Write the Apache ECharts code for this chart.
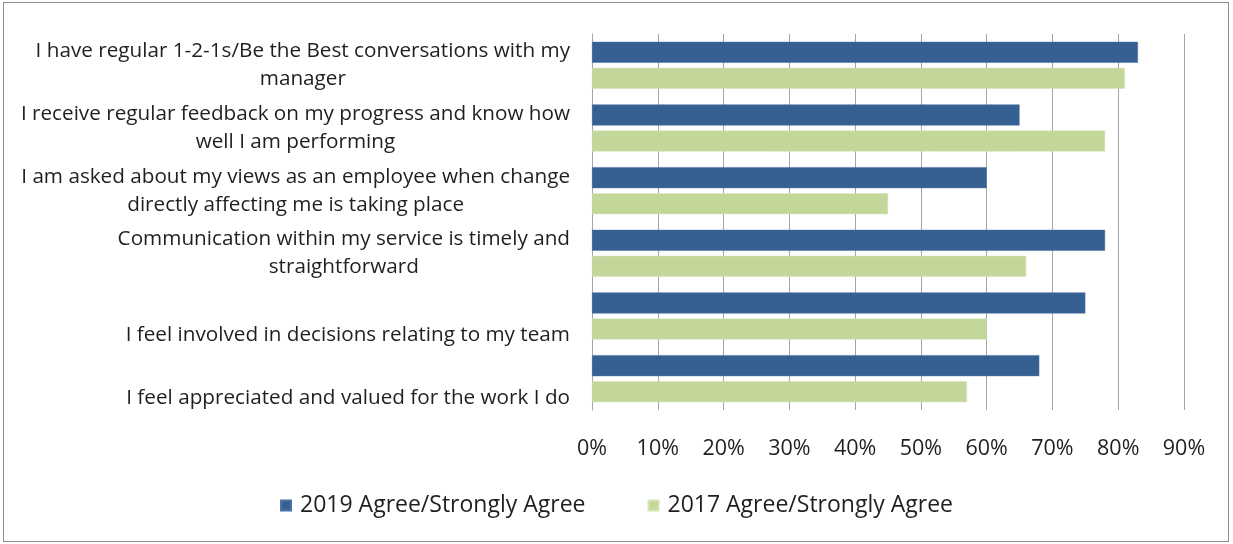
<!DOCTYPE html>
<html>
<head>
<meta charset="utf-8">
<script src="https://cdn.jsdelivr.net/npm/echarts@6/dist/echarts.min.js"></script>
<style>
html,body{margin:0;padding:0;background:#fff;}
#chart{width:1233px;height:544px;}
#frame{position:absolute;left:3px;top:2px;width:1224px;height:538px;border:1px solid #8c8c8c;pointer-events:none;}
</style>
</head>
<body>
<div id="chart"></div>
<div id="frame"></div>
<script>
const categories = [
  ["I have regular 1-2-1s/Be the Best conversations with my", "manager"],
  ["I receive regular feedback on my progress and know how", "well I am performing"],
  ["I am asked about my views as an employee when change", "directly affecting me is taking place"],
  ["Communication within my service is timely and", "straightforward"],
  ["I feel involved in decisions relating to my team"],
  ["I feel appreciated and valued for the work I do"]
];
const seriesNames = ["2019 Agree/Strongly Agree", "2017 Agree/Strongly Agree"];
const values2019 = [83, 65, 60, 78, 75, 68];
const values2017 = [81, 78, 45, 66, 60, 57];
const xTicks = [0, 10, 20, 30, 40, 50, 60, 70, 80, 90];

const FONT = "'Open Sans', sans-serif";
const TXT = '#1f1f1f';
const catNames = categories.map(l => l.join(' '));
const chart = echarts.init(document.getElementById('chart'));
chart.setOption({
  animation: false,
  textStyle: { fontFamily: FONT },
  legend: {
    top: 489,
    left: 'center',
    itemWidth: 10, itemHeight: 10, itemGap: 62,
    icon: 'rect',
    textStyle: { fontSize: 23, color: TXT, fontFamily: FONT, padding: [0, 0, 0, 4] },
    data: seriesNames
  },
  grid: { left: 592, right: 49, top: 34, bottom: 134 },
  xAxis: {
    type: 'value',
    min: xTicks[0], max: xTicks[xTicks.length - 1], interval: 10,
    axisLine: { show: false },
    axisTick: { show: false },
    splitLine: { show: true, lineStyle: { color: '#a6a6a6', width: 1 } },
    axisLabel: { formatter: '{value}%', fontSize: 21.5, color: TXT, margin: 28, fontFamily: FONT }
  },
  yAxis: {
    type: 'category',
    inverse: true,
    data: catNames,
    axisLine: { show: true, lineStyle: { color: '#a6a6a6' } },
    axisTick: { show: false },
    axisLabel: {
      margin: 22,
      align: 'right',
      fontSize: 20.7,
      lineHeight: 28,
      color: TXT,
      fontFamily: FONT,
      formatter: function (v, i) {
        const lines = categories[i];
        if (lines.length === 1) return '{s|' + lines[0] + '}';
        return lines.map(s => '{c|' + s + '}').join('\n');
      },
      rich: {
        c: { align: 'center', fontSize: 20.7, lineHeight: 28, color: TXT, fontFamily: FONT },
        s: { align: 'center', fontSize: 20.7, lineHeight: 28, color: TXT, fontFamily: FONT, padding: [38, 0, 0, 0] }
      }
    }
  },
  series: [
    {
      name: seriesNames[0], type: 'bar', data: values2019,
      barWidth: 21, barGap: '24%',
      itemStyle: { color: '#376092', borderColor: '#4a72a6', borderWidth: 0.5 }
    },
    {
      name: seriesNames[1], type: 'bar', data: values2017,
      barWidth: 21,
      itemStyle: { color: '#c4d79b', borderColor: '#d4e3b4', borderWidth: 0.5 }
    }
  ]
});
</script>
</body>
</html>
